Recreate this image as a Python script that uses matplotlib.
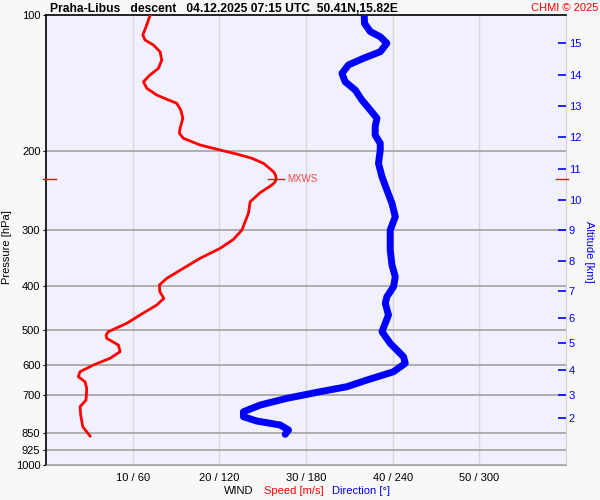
import matplotlib
matplotlib.use("Agg")
import matplotlib.pyplot as plt
import numpy as np

plt.rcParams['font.family'] = ['Liberation Sans', 'DejaVu Sans']

# ---- data ----
speed_p = [100, 105.9, 110.5, 113.4, 116.3, 120.4, 125.6, 131.1, 135.6, 140.4, 145.2, 150.3,
           153.6, 156.8, 162.3, 169.3, 178.2, 182.8, 187.6, 194.1, 199.2, 203.3, 207.8, 213.3,
           222.6, 227.0, 231.4, 235.0, 238.3, 247.9, 259.6, 275.4, 287.5, 300.1, 314.8, 329.6, 346.8, 365.1,
           384.3, 397.7, 411.6, 425.8, 440.6, 463.8, 483.9, 505.1, 513.8, 522.5, 540.8, 559.6, 578.9,
           599.1, 620.1, 636.2, 652.8, 675.3, 716.9, 741.9, 774.2, 821.9, 862.1]
speed_ms = [12.0, 11.55, 11.17, 11.43, 12.39, 13.16, 13.36, 12.97, 12.0, 11.24, 11.63, 12.78,
            13.94, 15.09, 15.55, 15.79, 15.47, 15.39, 15.85, 17.78, 20.1, 22.0, 23.75, 25.1,
            26.25, 26.5, 26.56, 26.4, 26.06, 24.7, 23.56, 23.36, 22.98, 22.6, 21.63, 20.09, 17.78, 15.85,
            13.94, 13.08, 13.13, 13.6, 12.78, 10.85, 9.32, 7.19, 6.93, 7.0, 8.35, 8.55, 7.39,
            5.46, 3.93, 3.73, 4.5, 4.7, 4.62, 3.93, 4.0, 4.24, 5.08]

dir_p = [100, 104.1, 108.6, 111.5, 115.3, 120.4, 124.5, 128.8, 134.5, 140.4, 146.5, 154.2,
         162.3, 169.3, 176.7, 184.5, 192.5, 199.2, 213.3, 228.4, 244.5, 261.7, 280.4, 300.1,
         332.5, 358.9, 381.2, 401.2, 422.3, 436.8, 463.8, 505.1, 536.3, 574.2, 593.9, 620.1,
         647.1, 669.6, 687.0, 710.6, 735.5, 761.2, 780.9, 798.4, 814.7, 835.8, 854.5]
dir_deg = [220.3, 220.5, 224.5, 231.4, 236.0, 231.4, 219.8, 209.4, 204.9, 207.1, 214.1, 218.7,
           224.5, 229.1, 227.9, 227.9, 231.4, 231.4, 230.2, 232.6, 236.0, 239.5, 241.8, 238.3,
           238.3, 239.5, 241.8, 240.6, 236.0, 234.9, 237.1, 232.6, 238.3, 247.5, 248.7, 240.6,
           222.2, 208.3, 189.8, 166.8, 148.3, 136.7, 136.7, 146.0, 162.1, 167.9, 165.6]

p_ticks = [100, 200, 300, 400, 500, 600, 700, 850, 925, 1000]
p_grid = [200, 300, 400, 500, 600, 700, 850, 925, 1000]
x_speed_ticks = [10, 20, 30, 40, 50]
x_tick_labels = ["10 / 60", "20 / 120", "30 / 180", "40 / 240", "50 / 300"]
alt_km = [2, 3, 4, 5, 6, 7, 8, 9, 10, 11, 12, 13, 14, 15]
alt_p = [787, 697.3, 613.4, 535.8, 470.6, 409.1, 350.8, 300.6, 257.3, 219.1, 186.3, 158.7, 135.5, 115.4]
mxws_p = 231.4
mxws_speed = 26.56

title = "Praha-Libus   descent   04.12.2025 07:15 UTC  50.41N,15.82E"

# ---- figure ----
fig = plt.figure(figsize=(6, 5), dpi=100, facecolor='#f8f8f8')
ax = fig.add_axes([46/600, 35/500, 520/600, 449.5/500])
ax.set_facecolor('#f0f0ff')
ax.set_yscale('log')
ax.set_ylim(1000, 100)
ax.set_xlim(0, 60)

# grids
for x in x_speed_ticks:
    ax.axvline(x, color='#d8d8d8', lw=1.0, zorder=1)
for p in p_grid:
    ax.axhline(p, color='#a8a8a8', lw=1.3, zorder=1)

# curves
ax.plot(speed_ms, speed_p, color='#ff0000', lw=2.0, zorder=4, solid_joinstyle='round')
dir_as_speed = [d / 6.0 for d in dir_deg]
ax.plot(dir_as_speed, dir_p, color='#0000ff', lw=5.0, zorder=3,
        solid_capstyle='round', solid_joinstyle='round')

# MXWS marker
ax.plot([mxws_speed - 0.9, mxws_speed + 0.9], [mxws_p, mxws_p], color='#ff0000', lw=1.0, zorder=5)
ax.text(mxws_speed + 1.3, mxws_p, "MXWS", color='#ff4040', fontsize=7, va='center', ha='left', zorder=5)
ax.plot([-0.3, 1.2], [mxws_p, mxws_p], color='#ff0000', lw=1.0, clip_on=False, zorder=5)
ax.plot([58.9, 60.2], [mxws_p, mxws_p], color='#ff0000', lw=1.0, clip_on=False, zorder=5)

# axes styling
ax.yaxis.set_minor_locator(matplotlib.ticker.NullLocator())
ax.set_yticks(p_ticks)
ax.set_yticklabels([str(p) for p in p_ticks], fontsize=8)
ax.tick_params(axis='y', length=2, width=0.8, pad=2, colors='black')
ax.set_xticks(x_speed_ticks)
ax.set_xticklabels(x_tick_labels, fontsize=8)
ax.tick_params(axis='x', length=0, pad=6)
ax.set_ylabel("Pressure [hPa]", fontsize=8, va='center')
ax.yaxis.set_label_coords(-38.5/520, 1 - (247 - 15.5)/449.5)

for s in ['left', 'top']:
    ax.spines[s].set_color('black')
    ax.spines[s].set_linewidth(1.2)
ax.spines['bottom'].set_color('#a8a8a8')
ax.spines['right'].set_color('#d0d0d0')

# right altitude axis
ax2 = ax.twinx()
ax2.set_yscale('log')
ax2.set_ylim(1000, 100)
ax2.yaxis.set_minor_locator(matplotlib.ticker.NullLocator())
ax2.set_yticks(alt_p)
ax2.set_yticklabels([str(k) for k in alt_km], fontsize=8, color='#0000ff')
ax2.tick_params(axis='y', direction='in', length=6, width=1.2, color='#0000ff', pad=2)
ax2.set_ylabel("Altitude [km]", fontsize=8, color='#0000ff', rotation=270, va='center')
ax2.yaxis.set_label_coords(1 + 23/520, 1 - (252 - 15.5)/449.5)
for s in ax2.spines.values():
    s.set_visible(False)

# title
fig.text(50/600, 1 - 9/500, title, fontsize=8.7, fontweight='bold', ha='left', va='center')
fig.text(598/600, 1 - 8/500, "CHMI \u00a9 2025", fontsize=8, color='#ff0000', ha='right', va='center')

# bottom labels
fig.text(253/600, 1 - 491/500, "WIND", fontsize=8, ha='right', va='center', color='black')
fig.text(264/600, 1 - 491/500, "Speed [m/s]", fontsize=8, ha='left', va='center', color='#ff0000')
fig.text(332/600, 1 - 491/500, "Direction [\u00b0]", fontsize=8, ha='left', va='center', color='#0000ff')

fig.savefig("out.png", dpi=100, facecolor=fig.get_facecolor())
